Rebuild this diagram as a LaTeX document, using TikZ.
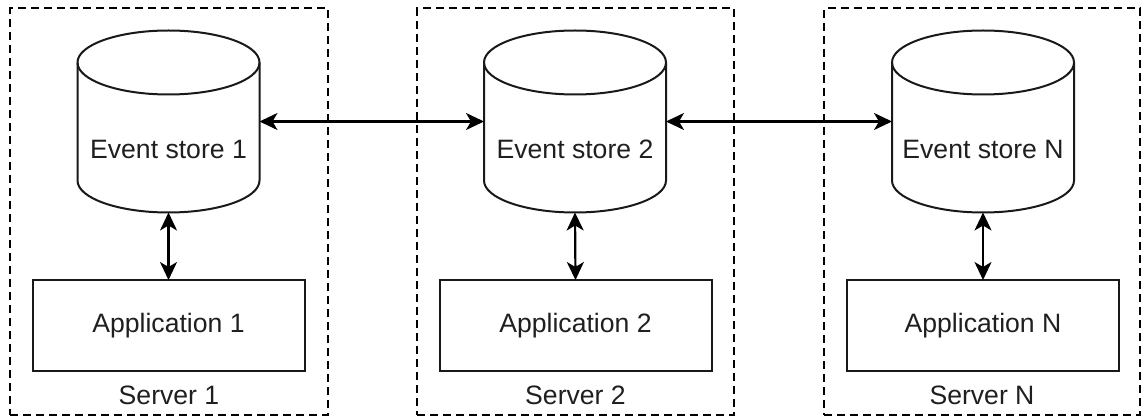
\documentclass[tikz,border=0pt]{standalone}
\usepackage{fontspec}
\setmainfont{Liberation Sans}
\usetikzlibrary{arrows.meta,calc}
\tikzset{
  every node/.style={font=\fontsize{26.6}{32}\selectfont, text=black!88},
  server/.style={draw=black, line width=2pt, dash pattern=on 8pt off 5pt, fill=none},
  cylbox/.style={minimum width=182pt, minimum height=182pt, inner sep=0pt, outer sep=0pt},
  appbox/.style={draw=black!90, line width=2pt, minimum width=272pt, minimum height=91pt, inner sep=0pt, outer sep=0pt},
  shapeline/.style={draw=black!90, line width=2pt},
  conn/.style={draw=black, line width=2.2pt, {Stealth[length=18pt,width=17pt,inset=5pt]}-{Stealth[length=18pt,width=17pt,inset=5pt]}},
  lbl/.style={inner sep=0pt}
}
\newcommand\drawcyl[1]{%
  \draw[shapeline] ([yshift=-32pt]#1.north west) -- ([yshift=32pt]#1.south west)
    arc[start angle=180,end angle=360,x radius=91pt,y radius=32pt]
    -- ([yshift=-32pt]#1.north east)
    arc[start angle=0,end angle=180,x radius=91pt,y radius=32pt] -- cycle;
  \draw[shapeline] ([yshift=-32pt]#1.north west)
    arc[start angle=180,end angle=360,x radius=91pt,y radius=32pt];
}
\begin{document}
\begin{tikzpicture}[x=1pt,y=1pt]
\useasboundingbox (0,0) rectangle (1142,418);
% server frames
\node[server, minimum width=318pt, minimum height=406.5pt, inner sep=0pt, outer sep=0pt] (srv1) at (169,206.25) {};
\node[server, minimum width=317pt, minimum height=406.5pt, inner sep=0pt, outer sep=0pt] (srv2) at (575.5,206.25) {};
\node[server, minimum width=316pt, minimum height=406.5pt, inner sep=0pt, outer sep=0pt] (srvN) at (982,206.25) {};
\node[lbl] (srv1l) at (169,23) {Server 1};
\node[lbl] (srv2l) at (575.5,23) {Server 2};
\node[lbl] (srvNl) at (982,23) {Server N};
% event stores
\node[cylbox, label={[yshift=-28pt]center:Event store 1}] (es1) at (168.5,296.5) {};
\node[cylbox, label={[yshift=-28pt]center:Event store 2}] (es2) at (575,296.5) {};
\node[cylbox, label={[yshift=-28pt]center:Event store N}] (esN) at (983,296.5) {};
\drawcyl{es1}
\drawcyl{es2}
\drawcyl{esN}
% applications
\node[appbox] (app1) at (168.5,92.5) {Application 1};
\node[appbox] (app2) at (575.5,92.5) {Application 2};
\node[appbox] (appN) at (983,92.5) {Application N};
% connectors
\draw[conn] (es1.east) -- (es2.west);
\draw[conn] (es2.east) -- (esN.west);
\draw[conn] (es1.south) -- (app1.north);
\draw[conn] (es2.south) -- (app2.north);
\draw[conn] (esN.south) -- (appN.north);
\end{tikzpicture}
\end{document}
